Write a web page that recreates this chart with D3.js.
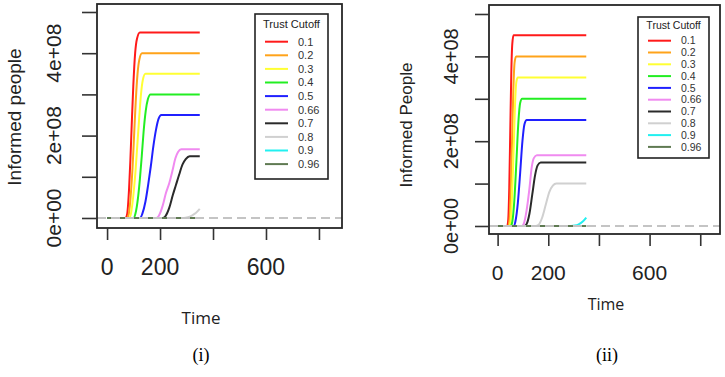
<!DOCTYPE html>
<html>
<head>
<meta charset="utf-8">
<script src="https://cdn.jsdelivr.net/npm/d3@7"></script>
<style>
	body { margin: 0; background: #fff; }
	svg { display: block; }
	.tick line { stroke: #333; stroke-width: 1.6; }
</style>
</head>
<body>
<div id="container"></div>
<script>
(function () {
	var w = 725
	var h = 377

	// legend entries
	var cutoffs = ["0.1", "0.2", "0.3", "0.4", "0.5", "0.66", "0.7", "0.8", "0.9", "0.96"]
	var colors = ["#ff1a1a", "#ffa31a", "#ffff33", "#22ee22", "#2020ff", "#f08af0", "#2a2a2a", "#d0d0d0", "#22f0f0", "#5f7a52"]

	// tick values
	var yTicks = [0, 1e8, 2e8, 3e8, 4e8, 5e8]
	var yLabels = ["0e+00", "", "2e+08", "", "4e+08", ""]
	var xTicks = [0, 200, 400, 600, 800]
	var xLabels = ["0", "200", "", "600", ""]

	// panel (i): [time, informed people], one list per cutoff
	var seriesI = [
		[[0, 0], [70, 0], [76, 0.1e8], [83, 0.7e8], [88, 1.4e8], [93, 2.25e8], [99, 3.2e8], [106, 4.0e8], [113, 4.35e8], [124, 4.5e8], [350, 4.5e8]],
		[[0, 0], [76, 0], [82, 0.1e8], [90, 0.6e8], [96, 1.2e8], [102, 2.0e8], [108, 2.8e8], [115, 3.5e8], [122, 3.85e8], [132, 4.0e8], [350, 4.0e8]],
		[[0, 0], [84, 0], [90, 0.1e8], [100, 0.6e8], [107, 1.1e8], [114, 1.75e8], [121, 2.4e8], [128, 3.0e8], [135, 3.35e8], [145, 3.5e8], [350, 3.5e8]],
		[[0, 0], [100, 0], [107, 0.1e8], [117, 0.5e8], [124, 0.95e8], [131, 1.5e8], [138, 2.1e8], [146, 2.6e8], [154, 2.88e8], [164, 3.0e8], [350, 3.0e8]],
		[[0, 0], [125, 0], [133, 0.1e8], [145, 0.4e8], [155, 0.8e8], [165, 1.25e8], [175, 1.75e8], [185, 2.15e8], [194, 2.4e8], [205, 2.5e8], [350, 2.5e8]],
		[[0, 0], [185, 0], [195, 0.05e8], [210, 0.3e8], [222, 0.6e8], [235, 0.85e8], [247, 1.15e8], [258, 1.45e8], [268, 1.6e8], [280, 1.67e8], [350, 1.67e8]],
		[[0, 0], [210, 0], [220, 0.04e8], [235, 0.25e8], [248, 0.55e8], [260, 0.8e8], [272, 1.05e8], [285, 1.3e8], [297, 1.43e8], [312, 1.5e8], [350, 1.5e8]],
		[[0, 0], [290, 0], [305, 0.02e8], [320, 0.06e8], [335, 0.12e8], [350, 0.22e8]],
		[[0, 0], [350, 0]],
		[[0, 0], [350, 0]]
	]

	// panel (ii)
	var seriesII = [
		[[0, 0], [38, 0], [42, 0.15e8], [46, 0.9e8], [50, 2.25e8], [54, 3.6e8], [58, 4.3e8], [63, 4.5e8], [350, 4.5e8]],
		[[0, 0], [42, 0], [47, 0.15e8], [52, 0.9e8], [57, 2.0e8], [62, 3.2e8], [67, 3.85e8], [73, 4.0e8], [350, 4.0e8]],
		[[0, 0], [46, 0], [51, 0.1e8], [57, 0.7e8], [63, 1.75e8], [69, 2.9e8], [74, 3.4e8], [80, 3.5e8], [350, 3.5e8]],
		[[0, 0], [52, 0], [58, 0.1e8], [66, 0.6e8], [74, 1.5e8], [82, 2.45e8], [89, 2.9e8], [97, 3.0e8], [350, 3.0e8]],
		[[0, 0], [63, 0], [70, 0.1e8], [80, 0.55e8], [89, 1.25e8], [98, 2.0e8], [106, 2.4e8], [115, 2.5e8], [350, 2.5e8]],
		[[0, 0], [95, 0], [103, 0.05e8], [114, 0.35e8], [125, 0.85e8], [135, 1.4e8], [143, 1.6e8], [155, 1.67e8], [350, 1.67e8]],
		[[0, 0], [105, 0], [114, 0.04e8], [126, 0.3e8], [137, 0.75e8], [148, 1.2e8], [158, 1.43e8], [170, 1.5e8], [350, 1.5e8]],
		[[0, 0], [150, 0], [162, 0.03e8], [176, 0.2e8], [190, 0.5e8], [204, 0.8e8], [218, 0.95e8], [232, 1.0e8], [350, 1.0e8]],
		[[0, 0], [290, 0], [305, 0.01e8], [320, 0.04e8], [335, 0.1e8], [350, 0.2e8]],
		[[0, 0], [350, 0]]
	]

	var svg = d3.select("#container")
		.append("svg")
		.attr("width", w)
		.attr("height", h)

	let drawPanel = (series, p) => {
		let xScale = d3.scaleLinear()
			.domain(p.xDomain)
			.range([p.left, p.right])

		let yScale = d3.scaleLinear()
			.domain(p.yDomain)
			.range([p.bottom, p.top])

		let line = d3.line()
			.x(d => xScale(d[0]))
			.y(d => yScale(d[1]))
			.curve(d3.curveMonotoneX)

		let g = svg.append("g")

		// Curves
		g.selectAll(".curve")
			.data(series)
			.enter()
			.append("path").attr("class", "curve")
			.attr("d", line)
			.attr("fill", "none")
			.attr("stroke", (d, i) => colors[i])
			.attr("stroke-width", 2)

		// dashed zero line
		g.append("line")
			.attr("x1", p.left)
			.attr("x2", p.right)
			.attr("y1", yScale(0))
			.attr("y2", yScale(0))
			.attr("stroke", "#c4c4c4")
			.attr("stroke-width", 2)
			.attr("stroke-dasharray", "9,5")

		// box
		g.append("rect")
			.attr("x", p.left)
			.attr("y", p.top)
			.attr("width", p.right - p.left)
			.attr("height", p.bottom - p.top)
			.attr("fill", "none")
			.attr("stroke", "#262626")
			.attr("stroke-width", 1.8)

		// axes (ticks only, labels below)
		let yAxis = d3.axisLeft(yScale).tickValues(yTicks).tickFormat("").tickSize(p.yTickLen)
		g.append("g")
			.attr("transform", "translate(" + p.left + ", 0)")
			.call(yAxis)
			.select(".domain").remove()

		let xAxis = d3.axisBottom(xScale).tickValues(xTicks).tickFormat("").tickSize(p.xTickLen)
		g.append("g")
			.attr("transform", "translate(0, " + p.bottom + ")")
			.call(xAxis)
			.select(".domain").remove()

		g.selectAll(".ylab")
			.data(yTicks)
			.enter()
			.append("text").attr("class", "ylab")
			.attr("transform", d => "translate(" + p.yLabX + "," + yScale(d) + ") rotate(-90)")
			.attr("dy", "0.36em")
			.style("text-anchor", "middle")
			.style("font-family", "Liberation Sans, Arial, sans-serif")
			.style("font-size", p.yLabSize + "px")
			.attr("fill", "#222")
			.text((d, i) => yLabels[i])

		g.selectAll(".xlab")
			.data(xTicks)
			.enter()
			.append("text").attr("class", "xlab")
			.attr("x", d => xScale(d))
			.attr("y", p.xLabY)
			.attr("dy", "0.36em")
			.style("text-anchor", "middle")
			.style("font-family", "Liberation Sans, Arial, sans-serif")
			.style("font-size", p.xLabSize + "px")
			.attr("fill", "#222")
			.text((d, i) => xLabels[i])

		// Text label for the Y axis
		g.append("text")
			.attr("transform", "translate(" + p.titleX + "," + p.titleY + ") rotate(-90)")
			.attr("dy", "0.36em")
			.style("text-anchor", "middle")
			.style("font-family", "Liberation Sans, Arial, sans-serif")
			.style("font-size", p.titleSize + "px")
			.attr("fill", "#222")
			.text(p.title)

		// legend
		let lg = p.legend
		g.append("rect")
			.attr("x", lg.x)
			.attr("y", lg.y)
			.attr("width", lg.w)
			.attr("height", lg.h)
			.attr("fill", "#fff")
			.attr("stroke", "#222")
			.attr("stroke-width", 1.6)

		g.append("text")
			.attr("x", lg.x + lg.w / 2)
			.attr("y", lg.titleY)
			.attr("dy", "0.36em")
			.style("text-anchor", "middle")
			.style("font-family", "Liberation Sans, Arial, sans-serif")
			.style("font-size", lg.size + "px")
			.attr("fill", "#222")
			.text("Trust Cutoff")

		let items = g.selectAll(".item")
			.data(cutoffs)
			.enter()
			.append("g").attr("class", "item")
			.attr("transform", (d, i) => "translate(0," + (lg.firstY + i * lg.step) + ")")

		items.append("line")
			.attr("x1", lg.lineX1)
			.attr("x2", lg.lineX2)
			.attr("stroke", (d, i) => colors[i])
			.attr("stroke-width", 2)

		items.append("text")
			.attr("x", lg.textX)
			.attr("dy", "0.36em")
			.style("font-family", "Liberation Sans, Arial, sans-serif")
			.style("font-size", lg.size + "px")
			.attr("fill", "#333")
			.text(d => d)
	}

	drawPanel(seriesI, {
		left: 97, right: 342, top: 4, bottom: 228,
		xDomain: [-38, 887], yDomain: [-0.243e8, 5.194e8],
		yTickLen: 15, xTickLen: 12,
		yLabX: 53, yLabSize: 21, xLabY: 267, xLabSize: 23,
		titleX: 14, titleY: 117, titleSize: 19, title: "Informed people",
		legend: { x: 255, y: 14, w: 73, h: 165, titleY: 24, firstY: 41.7, step: 13.6, lineX1: 265, lineX2: 288, textX: 298, size: 11 }
	})

	drawPanel(seriesII, {
		left: 489, right: 720, top: 5, bottom: 234,
		xDomain: [-34, 878], yDomain: [-0.189e8, 5.212e8],
		yTickLen: 14, xTickLen: 12,
		yLabX: 451, yLabSize: 20, xLabY: 272, xLabSize: 21,
		titleX: 406, titleY: 125, titleSize: 17, title: "Informed People",
		legend: { x: 638, y: 17, w: 71, h: 141, titleY: 25, firstY: 40.7, step: 11.8, lineX1: 648, lineX2: 671, textX: 681, size: 10.5 }
	})

	// captions under the panels
	svg.append("text")
		.attr("x", 201).attr("y", 318).attr("dy", "0.36em")
		.style("text-anchor", "middle")
		.style("font-family", "Open Sans, sans-serif")
		.style("font-size", "17px")
		.attr("fill", "#222")
		.text("Time")

	svg.append("text")
		.attr("x", 606).attr("y", 304).attr("dy", "0.36em")
		.style("text-anchor", "middle")
		.style("font-family", "Open Sans, sans-serif")
		.style("font-size", "16px")
		.attr("fill", "#222")
		.text("Time")

	svg.append("text")
		.attr("x", 201).attr("y", 355).attr("dy", "0.36em")
		.style("text-anchor", "middle")
		.style("font-family", "Liberation Serif, Times New Roman, serif")
		.style("font-size", "18px")
		.attr("fill", "#000")
		.text("(i)")

	svg.append("text")
		.attr("x", 607).attr("y", 355).attr("dy", "0.36em")
		.style("text-anchor", "middle")
		.style("font-family", "Liberation Serif, Times New Roman, serif")
		.style("font-size", "18px")
		.attr("fill", "#000")
		.text("(ii)")
})()
</script>
</body>
</html>
